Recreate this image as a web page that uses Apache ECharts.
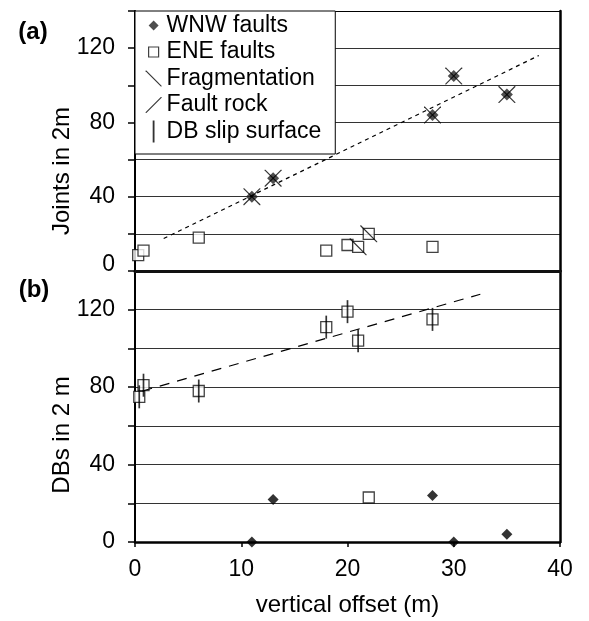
<!DOCTYPE html>
<html>
<head>
<meta charset="utf-8">
<script src="https://cdn.jsdelivr.net/npm/echarts@6/dist/echarts.min.js"></script>
<style>
  html, body { margin: 0; padding: 0; background: #fff; }
  #chart { width: 589px; height: 621px; }
</style>
</head>
<body>
<div id="chart"></div>
<script>
// panel (a): joints in 2 m vs vertical offset (m)
const wnwA = [[11, 40], [13, 50], [28, 84], [30, 105], [35, 95]]
const eneA = [[0.3, 8.5], [0.8, 11], [6, 18], [18, 11], [20, 14], [21, 13], [22, 20], [28, 13]]
const fragmentationA = [[11, 40], [13, 50], [28, 84], [30, 105], [35, 95], [21, 13], [22, 20]]
const faultRockA = [[11, 40], [13, 50], [28, 84], [30, 105], [35, 95]]
const trendA = [[2.7, 17.5], [38, 116]]

// panel (b): DBs in 2 m vs vertical offset (m)
const wnwB = [[11, 0], [13, 22], [28, 24], [30, 0], [35, 4]]
const eneB = [[0.4, 75], [0.8, 81], [6, 78], [18, 111], [20, 119], [21, 104], [28, 115], [22, 23]]
const slipSurfaceB = [[0.4, 75], [0.8, 81], [6, 78], [18, 111], [20, 119], [21, 104], [28, 115]]
const trendB = [[0.7, 78], [32.5, 128]]

const yLabelValues = [0, 40, 80, 120]

const FONT = "'Liberation Sans', Arial, Helvetica, sans-serif"
const BACKSLASH = 'path://M0,0L1,0L20,19L20,20L19,20L0,1Z'
const SLASH = 'path://M20,0L20,1L1,20L0,20L0,19L19,0Z'
const BAR = 'path://M0,0L2,0L2,24L0,24Z'
// legend icons: the bare moveTo points widen the box so the shape stays small
const LEGEND_DIAMOND = 'path://M0,0M16,16M8,3L13,8L8,13L3,8Z'
const LEGEND_SQUARE = 'path://M0,0M16,16M3,3L13,3L13,13L3,13Z'

const chart = echarts.init(document.getElementById('chart'))

function yAxisLeft(gridIndex, shiftZero) {
  return {
    type: 'value',
    gridIndex: gridIndex,
    position: 'left',
    min: 0,
    max: 140,
    interval: 20,
    axisLine: { show: true, onZero: false, lineStyle: { color: '#000', width: 2 } },
    axisTick: { show: true, inside: false, length: 7, lineStyle: { color: '#000', width: 1.5 } },
    axisLabel: {
      fontSize: 23,
      color: '#000',
      fontFamily: FONT,
      margin: 20,
      formatter: function (v) {
        if (yLabelValues.indexOf(v) < 0) return ''
        return (shiftZero && v === 0) ? '{z|0}' : String(v)
      },
      rich: { z: { fontSize: 23, fontFamily: FONT, color: '#000', padding: [0, 0, 12, 0] } }
    },
    splitLine: { show: true, lineStyle: { color: '#333', width: 1 } }
  }
}

function yAxisRight(gridIndex) {
  return {
    type: 'value',
    gridIndex: gridIndex,
    position: 'right',
    min: 0,
    max: 140,
    interval: 20,
    axisLine: { show: true, onZero: false, lineStyle: { color: '#000', width: 2.5 } },
    axisTick: { show: false },
    axisLabel: { show: false },
    splitLine: { show: false }
  }
}

chart.setOption({
  animation: false,
  textStyle: { fontFamily: FONT },
  grid: [
    { left: 135, top: 11, width: 425, height: 260 },
    { left: 135, top: 271, width: 425, height: 271 }
  ],
  legend: {
    orient: 'vertical',
    left: 135,
    top: 11,
    backgroundColor: '#fff',
    borderColor: '#000',
    borderWidth: 1,
    borderRadius: 0,
    padding: [3, 14, 11, 10],
    itemWidth: 16,
    itemHeight: 22,
    itemGap: 3.5,
    symbolKeepAspect: true,
    selectedMode: false,
    textStyle: { fontSize: 23, color: '#000', fontFamily: FONT },
    data: [
      { name: 'WNW faults', icon: LEGEND_DIAMOND, itemStyle: { borderWidth: 0 } },
      { name: 'ENE faults', icon: LEGEND_SQUARE, itemStyle: { borderWidth: 1.2 } },
      { name: 'Fragmentation', icon: BACKSLASH, itemStyle: { borderWidth: 0 } },
      { name: 'Fault rock', icon: SLASH, itemStyle: { borderWidth: 0 } },
      { name: 'DB slip surface', icon: BAR, itemStyle: { borderWidth: 0 } }
    ]
  },
  xAxis: [
    {
      type: 'value', gridIndex: 0, position: 'bottom', min: 0, max: 40, interval: 10,
      axisLine: { show: true, onZero: false, lineStyle: { color: '#111', width: 3 } },
      axisTick: { show: false }, axisLabel: { show: false }, splitLine: { show: false }
    },
    {
      type: 'value', gridIndex: 0, position: 'top', min: 0, max: 40, interval: 10,
      axisLine: { show: true, onZero: false, lineStyle: { color: '#000', width: 1 } },
      axisTick: { show: false }, axisLabel: { show: false }, splitLine: { show: false }
    },
    {
      type: 'value', gridIndex: 1, position: 'bottom', min: 0, max: 40, interval: 10,
      name: 'vertical offset (m)',
      nameLocation: 'middle',
      nameGap: 51,
      nameTextStyle: { fontSize: 24, color: '#000', fontFamily: FONT },
      axisLine: { show: true, onZero: false, lineStyle: { color: '#000', width: 2.5 } },
      axisTick: { show: true, inside: false, length: 5, lineStyle: { color: '#000', width: 1.5 } },
      axisLabel: { fontSize: 23, color: '#000', fontFamily: FONT, margin: 16 },
      splitLine: { show: false }
    }
  ],
  yAxis: [
    yAxisLeft(0, true),
    yAxisRight(0),
    yAxisLeft(1, false),
    yAxisRight(1)
  ],
  graphic: [
    { type: 'text', x: 33, y: 32, style: { text: '(a)', fontSize: 24, fontWeight: 'bold', fontFamily: FONT, fill: '#000', align: 'center', verticalAlign: 'middle' } },
    { type: 'text', x: 34, y: 290, style: { text: '(b)', fontSize: 24, fontWeight: 'bold', fontFamily: FONT, fill: '#000', align: 'center', verticalAlign: 'middle' } },
    { type: 'text', x: 62, y: 171, rotation: Math.PI / 2, style: { text: 'Joints in 2m', fontSize: 24, fontFamily: FONT, fill: '#000', align: 'center', verticalAlign: 'middle' } },
    { type: 'text', x: 62, y: 435, rotation: Math.PI / 2, style: { text: 'DBs in 2 m', fontSize: 24, fontFamily: FONT, fill: '#000', align: 'center', verticalAlign: 'middle' } }
  ],
  series: [
    {
      name: 'trend (a)', type: 'line', xAxisIndex: 0, yAxisIndex: 0, data: trendA,
      symbol: 'none', silent: true,
      lineStyle: { color: '#000', width: 1.2, type: [4, 4] }
    },
    {
      name: 'ENE faults', type: 'scatter', xAxisIndex: 0, yAxisIndex: 0, data: eneA,
      symbol: 'rect', symbolSize: 11,
      itemStyle: { color: '#fff', borderColor: '#111', borderWidth: 1.3 }
    },
    {
      name: 'WNW faults', type: 'scatter', xAxisIndex: 0, yAxisIndex: 0, data: wnwA,
      symbol: 'diamond', symbolSize: 12,
      itemStyle: { color: '#222' }
    },
    {
      name: 'Fragmentation', type: 'scatter', xAxisIndex: 0, yAxisIndex: 0, data: fragmentationA,
      symbol: BACKSLASH, symbolSize: 17,
      itemStyle: { color: '#000' }
    },
    {
      name: 'Fault rock', type: 'scatter', xAxisIndex: 0, yAxisIndex: 0, data: faultRockA,
      symbol: SLASH, symbolSize: 17,
      itemStyle: { color: '#000' }
    },
    {
      name: 'trend (b)', type: 'line', xAxisIndex: 2, yAxisIndex: 2, data: trendB,
      symbol: 'none', silent: true,
      lineStyle: { color: '#000', width: 1.2, type: [10, 8] }
    },
    {
      name: 'ENE faults', type: 'scatter', xAxisIndex: 2, yAxisIndex: 2, data: eneB,
      symbol: 'rect', symbolSize: 11,
      itemStyle: { color: '#fff', borderColor: '#111', borderWidth: 1.3 }
    },
    {
      name: 'DB slip surface', type: 'scatter', xAxisIndex: 2, yAxisIndex: 2, data: slipSurfaceB,
      symbol: BAR, symbolSize: [1.7, 23],
      itemStyle: { color: '#000' }
    },
    {
      name: 'WNW faults', type: 'scatter', xAxisIndex: 2, yAxisIndex: 2, data: wnwB,
      symbol: 'diamond', symbolSize: 11,
      itemStyle: { color: '#000' }
    }
  ]
})
</script>
</body>
</html>
